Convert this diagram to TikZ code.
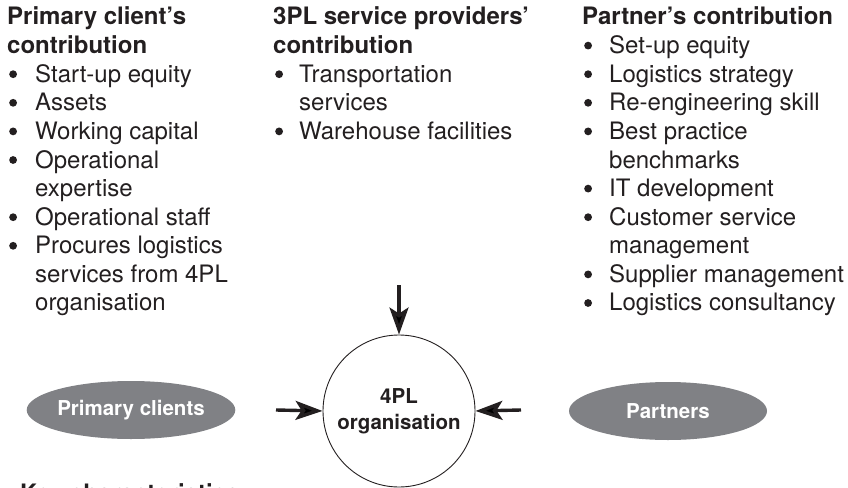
\documentclass[tikz,border=0pt]{standalone}
\usepackage{fontspec}
\setmainfont{TeX Gyre Heros}
\usetikzlibrary{arrows.meta,shapes.geometric}
\definecolor{ink}{RGB}{35,31,32}
\definecolor{ovalgray}{RGB}{128,129,133}
\tikzset{
  colbox/.style={anchor=base west, inner sep=0pt, text=ink},
  oval/.style={ellipse, fill=ovalgray, minimum width=198pt, minimum height=58pt, inner sep=0pt, text=white, font=\bfseries\fontsize{20.5}{24}\selectfont},
  arr/.style={draw=ink, line width=3.4pt, -{Stealth[length=27pt,width=19pt,inset=6pt]}},
}
\newcommand\bodyfont{\fontsize{24}{28.6}\selectfont}
\newcommand\hd[1]{\multicolumn{2}{@{}l@{}}{\bfseries #1}}
\newcommand\bul{\hspace{2pt}\tikz[baseline={(0,-8pt)}]\fill[ink] (0,0) circle (3.9pt);}
\begin{document}
\begin{tikzpicture}[x=1pt,y=-1pt]
\useasboundingbox (0,0) rectangle (848,487);
\node[colbox] (leftcol) at (7,25) {\bodyfont
\begin{tabular}[t]{@{}p{28pt}@{}l@{}}
\hd{Primary client’s}\\
\hd{contribution}\\
\bul & Start-up equity\\
\bul & Assets\\
\bul & Working capital\\
\bul & Operational\\
 & expertise\\
\bul & Operational staff\\
\bul & Procures logistics\\
 & services from 4PL\\
 & organisation
\end{tabular}};
\node[colbox] (midcol) at (273,25) {\bodyfont
\begin{tabular}[t]{@{}p{26pt}@{}l@{}}
\hd{3PL service providers’}\\
\hd{contribution}\\
\bul & Transportation\\
 & services\\
\bul & Warehouse facilities
\end{tabular}};
\node[colbox] (rightcol) at (582,25) {\bodyfont
\begin{tabular}[t]{@{}p{27pt}@{}l@{}}
\hd{Partner’s contribution}\\
\bul & Set-up equity\\
\bul & Logistics strategy\\
\bul & Re-engineering skill\\
\bul & Best practice\\
 & benchmarks\\
\bul & IT development\\
\bul & Customer service\\
 & management\\
\bul & Supplier management\\
\bul & Logistics consultancy
\end{tabular}};
\node[oval] (pc) at (131,410) {Primary clients};
\node[oval] (pt) at (668,411) {Partners};
\node[circle, draw=ink, line width=0.9pt, minimum size=152pt, inner sep=0pt, align=center, text=ink, font=\bfseries\fontsize{20.5}{26}\selectfont] (org) at (399,411) {4PL\\organisation};
\coordinate (topin) at (399,285);
\coordinate (leftin) at (276,410);
\coordinate (rightin) at (521,410);
\draw[arr] (topin) -- (org.north);
\draw[arr] (leftin) -- (org.west);
\draw[arr] (rightin) -- (org.east);
\node[colbox, font=\bfseries\fontsize{24}{28}\selectfont] (key) at (20,501) {Key characteristics};
\end{tikzpicture}
\end{document}
